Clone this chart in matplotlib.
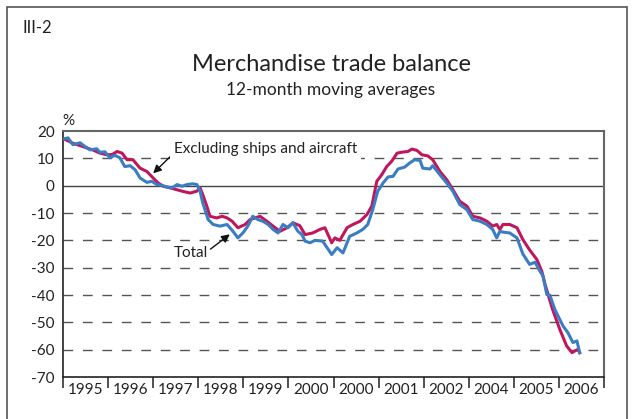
import numpy as np
import matplotlib
matplotlib.use("Agg")
import matplotlib.pyplot as plt
from matplotlib.patches import Rectangle

plt.rcParams['font.family'] = ['Lato', 'DejaVu Sans']

# time in years from the first tick (0 = start of 1995 panel)
t_total = [0.00, 0.11, 0.22, 0.38, 0.49, 0.60, 0.75, 0.82, 0.93, 1.04, 1.15, 1.26,
           1.37, 1.49, 1.60, 1.71, 1.86, 1.97, 2.08, 2.20, 2.31, 2.42, 2.53, 2.64,
           2.75, 2.88, 2.97, 3.04, 3.10, 3.22, 3.33, 3.48, 3.64, 3.77, 3.88, 3.99,
           4.10, 4.21, 4.32, 4.43, 4.55, 4.66, 4.77, 4.88, 4.99, 5.10, 5.21, 5.30,
           5.37, 5.48, 5.59, 5.76, 5.96, 6.08, 6.21, 6.36, 6.52, 6.65, 6.76, 6.87,
           6.98, 7.10, 7.21, 7.32, 7.43, 7.58, 7.69, 7.80, 7.92, 7.98, 8.14, 8.20,
           8.36, 8.51, 8.65, 8.80, 8.96, 9.09, 9.25, 9.40, 9.53, 9.62, 9.69, 9.76,
           9.91, 10.07, 10.20, 10.35, 10.47, 10.58, 10.65, 10.73, 10.80, 10.91,
           11.09, 11.20, 11.31, 11.40, 11.46]
total = [17.0, 17.5, 15.0, 15.7, 14.3, 13.1, 13.5, 12.2, 12.4, 10.2, 11.1, 10.2,
         7.0, 7.3, 5.8, 2.8, 1.2, 1.6, 0.4, 0.1, -0.5, -0.8, 0.4, -0.2,
         0.4, 0.7, 0.4, -2.0, -6.3, -12.4, -14.2, -14.8, -14.2, -16.7, -19.1, -17.3,
         -14.8, -11.2, -12.4, -13.0, -14.2, -16.0, -17.3, -14.2, -15.4, -13.6, -16.7, -17.9,
         -20.3, -20.9, -20.0, -20.3, -25.2, -22.7, -24.6, -18.5, -17.3, -16.0, -14.2, -8.8,
         -2.1, 1.0, 3.2, 3.4, 6.1, 6.8, 8.3, 9.5, 9.2, 6.4, 6.1, 7.3,
         4.0, 1.0, -2.1, -6.9, -8.8, -12.4, -13.0, -14.2, -16.0, -19.1, -16.7, -17.0,
         -17.3, -19.1, -25.0, -28.8, -28.0, -31.3, -33.1, -39.8, -40.1, -45.3,
         -51.3, -53.8, -57.4, -56.8, -61.1]

t_excl = [0.00, 0.22, 0.44, 0.67, 0.82, 0.98, 1.09, 1.20, 1.31, 1.42, 1.55, 1.71,
          1.86, 2.00, 2.11, 2.22, 2.37, 2.53, 2.66, 2.82, 2.97, 3.04, 3.10, 3.19,
          3.26, 3.41, 3.53, 3.64, 3.75, 3.88, 4.04, 4.15, 4.26, 4.37, 4.52, 4.66,
          4.81, 4.97, 5.10, 5.25, 5.37, 5.54, 5.70, 5.81, 5.96, 6.03, 6.14, 6.30,
          6.43, 6.59, 6.74, 6.85, 6.96, 7.07, 7.18, 7.29, 7.41, 7.54, 7.65, 7.74,
          7.85, 7.96, 8.09, 8.20, 8.36, 8.51, 8.65, 8.80, 8.96, 9.09, 9.25, 9.40,
          9.53, 9.62, 9.69, 9.76, 9.91, 10.07, 10.20, 10.35, 10.51, 10.62, 10.69,
          10.86, 11.02, 11.17, 11.29, 11.35, 11.42, 11.46]
excl = [17.3, 15.5, 14.3, 13.0, 11.9, 11.3, 11.4, 12.5, 11.9, 9.5, 9.5, 6.4,
        5.2, 2.8, 1.0, -0.2, -0.8, -1.5, -2.1, -2.7, -2.0, -0.8, -3.3, -7.5,
        -11.2, -11.8, -11.2, -11.8, -13.0, -15.4, -14.2, -12.4, -11.8, -11.2, -13.0, -14.8,
        -16.7, -15.4, -13.6, -14.6, -17.9, -17.3, -16.0, -15.4, -20.9, -19.1, -20.0, -15.4,
        -14.2, -13.0, -10.6, -7.5, 1.6, 4.0, 7.0, 8.9, 11.9, 12.3, 12.5, 13.4,
        12.9, 11.3, 10.9, 9.5, 5.2, 2.2, -1.5, -5.7, -7.5, -11.2, -11.8, -13.0,
        -14.8, -14.2, -16.0, -14.2, -14.2, -15.4, -19.7, -23.5, -27.0, -31.3, -36.0,
        -45.3, -52.6, -58.6, -61.1, -60.5, -59.9, -61.1]

year_labels = ['1995', '1996', '1997', '1998', '1999', '2000', '2000',
               '2001', '2002', '2004', '2005', '2006']
y_ticks = [20, 10, 0, -10, -20, -30, -40, -50, -60, -70]

fig = plt.figure(figsize=(6.34, 4.19), dpi=100)
ax = fig.add_axes([63/634, 1-377/419, 541/634, 246/419])

# outer frame
fig.patches.append(Rectangle((7/634, -0.1), 620/634, 1.1 - 7/419, transform=fig.transFigure,
                             fill=False, edgecolor='#555555', lw=1.2, clip_on=False))

red = '#c0175c'
blue = '#3a7dc4'

for v in y_ticks:
    if v == 0:
        ax.axhline(0, color='#444444', lw=1.0, zorder=1)
    elif v not in (20, -70):
        ax.axhline(v, color='#555555', lw=1.0, ls=(0, (7, 7)), zorder=1)

ax.plot(t_excl, excl, color=red, lw=2.2, zorder=3, solid_joinstyle='round')
ax.plot(t_total, total, color=blue, lw=2.2, zorder=4, solid_joinstyle='round')

ax.set_xlim(0, 12)
ax.set_ylim(-70, 20)
ax.set_yticks(y_ticks)
ax.set_yticklabels([str(v) for v in y_ticks])
ax.tick_params(axis='y', length=0, labelsize=11, pad=6, colors='#222222')
ax.set_xticks(np.arange(0, 13))
ax.set_xticklabels([])
ax.set_xticks(np.arange(0.5, 12, 1), minor=True)
ax.set_xticklabels(year_labels, minor=True)
ax.tick_params(axis='x', which='major', direction='out', length=8, width=1.2, color='#333333')
ax.tick_params(axis='x', which='minor', length=0, labelsize=11, pad=4, colors='#222222')

for s in ['left', 'bottom']:
    ax.spines[s].set_color('#222222')
    ax.spines[s].set_linewidth(1.2)
for s in ['top', 'right']:
    ax.spines[s].set_color('#666666')
    ax.spines[s].set_linewidth(1.5)

ax.annotate('Excluding ships and aircraft', xy=(2.0, 4.5), xytext=(2.46, 13.5),
            fontsize=11, color='#222222', ha='left', va='center',
            bbox=dict(boxstyle='square,pad=0.25', fc='white', ec='none'),
            arrowprops=dict(arrowstyle='-|>', color='#111111', lw=1.0,
                            mutation_scale=12, shrinkA=0, shrinkB=0,
                            relpos=(0, 0.2)), zorder=5)
ax.annotate('Total', xy=(3.7, -17.8), xytext=(2.45, -24.5),
            fontsize=11, color='#222222', ha='left', va='center',
            arrowprops=dict(arrowstyle='-|>', color='#111111', lw=1.0,
                            mutation_scale=12, shrinkA=0, shrinkB=0,
                            relpos=(1.0, 0.6)), zorder=5)

fig.text(22/634, 1-28/419, 'III-2', fontsize=12, color='#222222', va='center')
fig.text(331/634, 1-64/419, 'Merchandise trade balance', fontsize=17, color='#222222',
         ha='center', va='center')
fig.text(331/634, 1-90/419, '12-month moving averages', fontsize=12.5, color='#222222',
         ha='center', va='center')
fig.text(62/634, 1-121/419, '%', fontsize=11, color='#222222', va='center')

fig.savefig('out.png', dpi=100)
